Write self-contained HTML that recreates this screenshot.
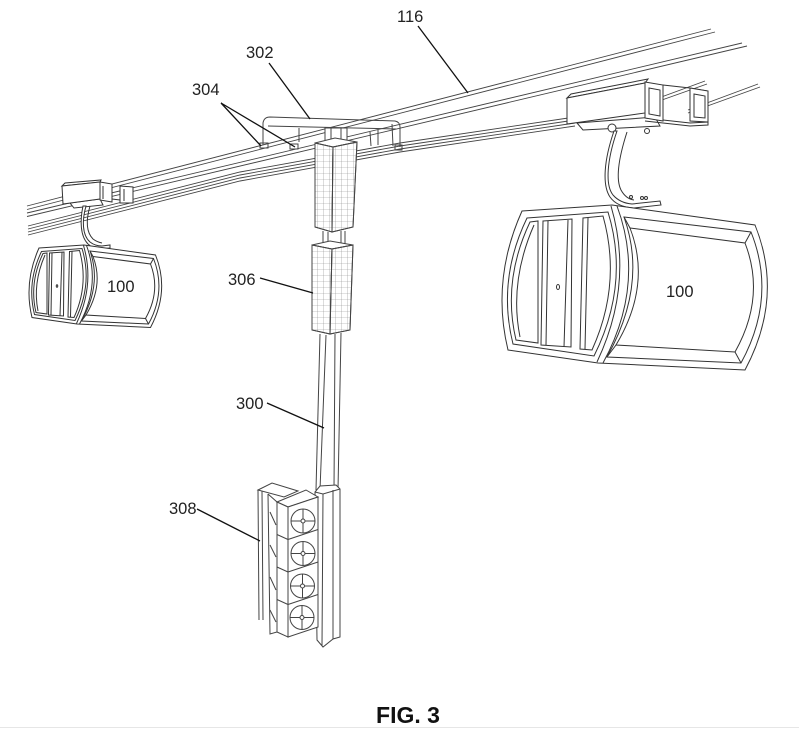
<!DOCTYPE html>
<html><head><meta charset="utf-8"><style>
html,body{margin:0;padding:0;background:#fff;}
svg{display:block;}
text{font-family:"Liberation Sans",Arial,sans-serif;fill:#222;}
</style></head><body>
<svg width="799" height="729" viewBox="0 0 799 729" xmlns="http://www.w3.org/2000/svg">
<defs>
<pattern id="g" width="6" height="6" patternUnits="userSpaceOnUse"><path d="M6 0V6M0 6H6" stroke="#8a8a8a" stroke-width="0.6" fill="none"/></pattern>
<g id="cab" stroke="#333" stroke-width="1" fill="none">
<path vector-effect="non-scaling-stroke" d="M522,211 L612,205 L755,225 Q784,297 745,370 L598,363 L508,350 Q491,280 522,211 Z" fill="#fff"/>
<path vector-effect="non-scaling-stroke" d="M527,218 L608,212 Q630,284 594,356 L513,344 Q497,280 527,218 Z"/>
<path vector-effect="non-scaling-stroke" d="M611,206 Q634,284 597,362"/>
<path vector-effect="non-scaling-stroke" d="M617,206 Q646,284 603,363"/>
<path vector-effect="non-scaling-stroke" d="M624,217 L751,232 Q777,297 741,363 L607,357 Q648,284 624,217 Z"/>
<path vector-effect="non-scaling-stroke" d="M630,228 L745,243 Q766,297 735,352 L616,345 Q652,285 630,228 Z"/>
<path vector-effect="non-scaling-stroke" d="M624,217 L630,228 M751,232 L745,243 M741,363 L735,352 M607,357 L616,345"/>
<path vector-effect="non-scaling-stroke" d="M530,222 L538,221 L538,343 L516,340 Q502,281 530,222 Z"/>
<path vector-effect="non-scaling-stroke" d="M534,225 Q509,282 520,337"/>
<path vector-effect="non-scaling-stroke" d="M543,221 L572,219 L571,347 L541,345 Z"/>
<path vector-effect="non-scaling-stroke" d="M548,221 L546,345 M568,220 L564,347"/>
<ellipse vector-effect="non-scaling-stroke" cx="558" cy="287" rx="1.5" ry="2.5"/>
<path vector-effect="non-scaling-stroke" d="M583,218 L603,216 Q622,284 592,350 L580,349 Z"/>
<path vector-effect="non-scaling-stroke" d="M588,218 L585,349"/>
</g>
</defs>

<!-- cables -->
<g stroke="#444" stroke-width="0.9" fill="none">
<path d="M27,206 L711,29"/>
<path d="M27,209.5 L715,32"/>
<path d="M27,213 L742,43"/>
<path d="M27,216.5 L747,46"/>
<path d="M28,226 L240,172 L400,143 L575,117"/>
<path d="M28,229 L240,175 L400,146 L575,120"/>
<path d="M28,232 L240,178 L400,149 L575,123"/>
<path d="M28,235 L240,181 L400,152 L575,126"/>
<path d="M645,103 L705,81"/>
<path d="M645,106 L707,84"/>
<path d="M688,110 L758,84"/>
<path d="M688,113 L760,87"/>
</g>

<!-- 302 beam -->
<g stroke="#444" stroke-width="1" fill="none">
<path d="M263,145 L263,123 Q264,117 270,117 L395,121 Q400,122 400,127 L400,147"/>
<path d="M268,126 L396,129"/>
<path d="M299,128 L299,142 M370,132 L371,146 M378,130 L378,145 M392,124 L393,146"/>
<path d="M260,143 L268,143 L268,148 L260,148 Z M290,144 L298,144 L298,149 L290,149 Z M395,145 L402,145 L402,150 L395,150 Z"/>
</g>

<!-- column neck top -->
<g stroke="#444" stroke-width="1" fill="#fff">
<rect x="325" y="128" width="22" height="14"/>
<path d="M331,128 V142 M341,128 V142" fill="none"/>
</g>

<!-- upper cladding -->
<g stroke="#444" stroke-width="1">
<polygon points="315,143 335,138 357,142 333,147" fill="#fff"/>
<polygon points="315,143 333,147 332,232 315,227" fill="#fff"/>
<polygon points="315,143 333,147 332,232 315,227" fill="url(#g)"/>
<polygon points="333,147 357,142 353,227 332,232" fill="#fff"/>
<polygon points="333,147 357,142 353,227 332,232" fill="url(#g)"/>
</g>
<!-- neck between -->
<g stroke="#444" stroke-width="1" fill="none">
<path d="M323,231 V246 M328,232 V247 M341,231 V246 M345,231 V246"/>
</g>
<!-- lower cladding -->
<g stroke="#444" stroke-width="1">
<polygon points="312,245 330,241 353,245 332,249" fill="#fff"/>
<polygon points="312,245 332,249 330,334 312,330" fill="#fff"/>
<polygon points="312,245 332,249 330,334 312,330" fill="url(#g)"/>
<polygon points="332,249 353,245 350,330 330,334" fill="#fff"/>
<polygon points="332,249 353,245 350,330 330,334" fill="url(#g)"/>
</g>

<!-- pole -->
<g stroke="#444" stroke-width="1" fill="none">
<path d="M320,334 L316,490 M326,335 L320,490 M335,334 L334,490 M341,333 L338,490"/>
</g>
<!-- sleeve -->
<g stroke="#444" stroke-width="1" fill="#fff">
<path d="M315,492 L320,486 L336,485 L340,489 L340,637 L333,639 L323,647 L317,640 Z"/>
<path d="M315,492 L323,494 L340,489 M323,494 L322,646 M333,490 L333,639" fill="none"/>
</g>

<!-- signal stack 308 -->
<g stroke="#444" stroke-width="1" fill="#fff">
<path d="M258,490 L272,483 L298,491 L284,497 Z"/>
<path d="M258,490 L259,620 M262,491 L263,620" fill="none"/>
<path d="M268,494 L277,502 L277,632 L270,634 L268,494" />
<path d="M270,512 L276,525 M270,545 L276,557 M270,577 L276,590 M270,610 L276,622" fill="none"/>
<polygon points="277,502 306,490 318,497 288,507"/>
<polygon points="277,502 288,507 288,637 277,632"/>
<polygon points="288,507 318,497 318,627 288,637"/>
<path d="M288,539.5 L318,529.5 M288,572 L318,562 M288,604.5 L318,594.5 M277,534.5 L288,539.5 M277,567 L288,572 M277,599.5 L288,604.5" fill="none"/>
<g fill="none">
<circle cx="303" cy="521" r="12"/><circle cx="303" cy="521" r="2"/><path d="M303,509 V519 M303,523 V533 M291,521 H301 M305,521 H315"/>
<circle cx="303" cy="553.5" r="12"/><circle cx="303" cy="553.5" r="2"/><path d="M303,541.5 V551.5 M303,555.5 V565.5 M291,553.5 H301 M305,553.5 H315"/>
<circle cx="302.5" cy="586" r="12"/><circle cx="302.5" cy="586" r="2"/><path d="M302.5,574 V584 M302.5,588 V598 M290.5,586 H300.5 M304.5,586 H314.5"/>
<circle cx="302" cy="617.5" r="12"/><circle cx="302" cy="617.5" r="2"/><path d="M302,605.5 V615.5 M302,619.5 V629.5 M290,617.5 H300 M304,617.5 H314"/>
</g>
</g>

<!-- right gripper -->
<g stroke="#333" stroke-width="1" fill="#fff">
<polygon points="577,123 655,117 660,126 583,130"/>
<polygon points="567,98 571,94 648,79 645,83"/>
<polygon points="567,98 645,83 645,113 567,124"/>
<path d="M645,118 L690,123 L708,122 L708,91 L690,88 L663,85 M645,121 L690,126 L708,125 L708,122" fill="none"/>
<polygon points="645,82 663,85 663,121 645,118"/>
<polygon points="649,88 660,90 660,116 649,114" fill="none"/>
<polygon points="690,88 708,91 708,122 690,121"/>
<polygon points="694,94 705,96 705,118 694,117" fill="none"/>
<circle cx="612" cy="128" r="4"/>
<circle cx="647" cy="131" r="2.5"/>
<path d="M617,131 C607,160 605,185 613,195 Q620,203 632,204 L660,201 L661,205 L634,208 Q617,207 610,197 C602,185 604,160 614,131 Z"/>
<path d="M627,132 C618,160 616,180 621,190 Q626,199 634,200" fill="none"/>
<circle cx="631" cy="197" r="1.5" fill="none"/><circle cx="642" cy="198" r="1.5" fill="none"/><circle cx="646" cy="198" r="1.5" fill="none"/>
</g>

<!-- left gripper -->
<g stroke="#333" stroke-width="1" fill="#fff">
<polygon points="70,203 100,199 103,205 74,208"/>
<polygon points="62,186 65,183 101,180 100,182"/>
<polygon points="62,186 100,182 100,199 63,204"/>
<polygon points="100,182 112,184 112,202 100,200"/>
<polygon points="120,186 133,187 133,203 120,203"/>
<path d="M103,186 V199 M124,189 V201 M112,199 L120,200" fill="none"/>
<path d="M86,206 C82,220 82,235 90,242 Q95,246 102,246 L110,245 L110,248 L101,249 Q93,249 88,244 C80,236 80,220 83,206 Z"/>
<path d="M90,206 C86,220 86,232 93,239 Q97,242 102,243" fill="none"/>
</g>

<!-- cabins -->
<use href="#cab"/>
<use href="#cab" transform="translate(39,248) scale(0.5) translate(-522,-211)"/>

<!-- leaders -->
<g stroke="#111" stroke-width="1.3" fill="none">
<path d="M418,26 L468,93"/>
<path d="M269,63 L310,119"/>
<path d="M221,103 L261,146 M221,103 L295,147"/>
<path d="M260,278 L313,293"/>
<path d="M267,403 L324,428"/>
<path d="M197,509 L260,541"/>
</g>

<!-- labels -->
<g font-size="16.5">
<text x="397" y="22">116</text>
<text x="246" y="58">302</text>
<text x="192" y="95">304</text>
<text x="228" y="285">306</text>
<text x="236" y="409">300</text>
<text x="169" y="514">308</text>
<text x="107" y="292">100</text>
<text x="666" y="297">100</text>
</g>
<text x="408" y="723" font-size="23" font-weight="bold" text-anchor="middle" style="fill:#111">FIG. 3</text>
<line x1="0" y1="727.5" x2="799" y2="727.5" stroke="#e6e6e6" stroke-width="1"/>
</svg>
</body></html>
